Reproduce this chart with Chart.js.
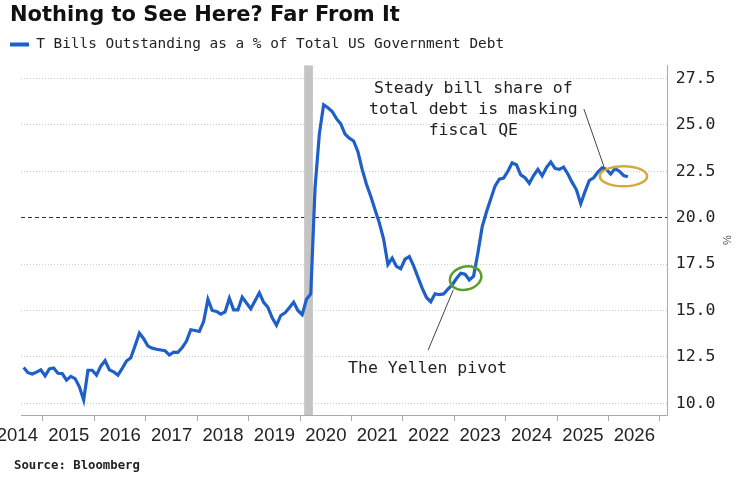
<!DOCTYPE html>
<html>
<head>
<meta charset="utf-8">
<script src="https://cdn.jsdelivr.net/npm/chart.js@4.4.1/dist/chart.umd.min.js"></script>
<style>
  html, body { margin: 0; padding: 0; background: #fff; }
  canvas { display: block; }
</style>
</head>
<body>
<canvas id="chart" width="741" height="483"></canvas>
<script>
// monthly readings, first point is Aug 2014
const firstYear = 2014;
const firstMonth = 8;
const billShare = [
  11.93, 11.65, 11.58, 11.68, 11.80,                                              // 2014
  11.48, 11.85, 11.90, 11.62, 11.60, 11.25, 11.45, 11.33, 10.89, 10.18, 11.78, 11.78, // 2015
  11.52, 12.00, 12.30, 11.80, 11.69, 11.52, 11.88, 12.28, 12.45, 13.10, 13.78, 13.48, // 2016
  13.08, 12.97, 12.91, 12.87, 12.83, 12.60, 12.76, 12.75, 13.00, 13.35, 13.96, 13.92, // 2017
  13.87, 14.40, 15.60, 15.00, 14.95, 14.80, 14.92, 15.66, 15.03, 15.03, 15.72, 15.40, // 2018
  15.09, 15.53, 15.95, 15.44, 15.17, 14.60, 14.20, 14.73, 14.87, 15.15, 15.45, 15.00, // 2019
  14.77, 15.60, 15.89, 21.60, 24.50, 26.08, 25.92, 25.72, 25.33, 25.05, 24.50, 24.28, // 2020
  24.13, 23.55, 22.60, 21.80, 21.15, 20.43, 19.72, 18.85, 17.48, 17.82, 17.38, 17.25, // 2021
  17.76, 17.90, 17.40, 16.80, 16.20, 15.70, 15.47, 15.90, 15.85, 15.89, 16.15, 16.38, // 2022
  16.72, 17.00, 16.95, 16.65, 16.85, 18.10, 19.50, 20.30, 21.00, 21.70, 22.07, 22.13, // 2023
  22.50, 22.95, 22.85, 22.30, 22.15, 21.85, 22.27, 22.60, 22.25, 22.70, 23.00, 22.65, // 2024
  22.60, 22.72, 22.35, 21.90, 21.50, 20.75, 21.40, 22.00, 22.15, 22.45, 22.68, 22.60, // 2025
  22.35, 22.64, 22.50, 22.27, 22.20                                               // 2026
];
const yearTicks = [2014, 2015, 2016, 2017, 2018, 2019, 2020, 2021, 2022, 2023, 2024, 2025, 2026, 2027];
const yearLabels = ['2014', '2015', '2016', '2017', '2018', '2019', '2020', '2021', '2022', '2023', '2024', '2025', '2026'];
const valueTicks = [10, 12.5, 15, 17.5, 20, 22.5, 25, 27.5];
const refLevel = 20;
const recession = [2020.08, 2020.25];

const seriesName = 'T Bills Outstanding as a % of Total US Government Debt';
const sourceNote = 'Source: Bloomberg';
const blue = '#1f5fc8';
const mono = 'DejaVu Sans Mono';

const points = billShare.map((v, i) => ({
  x: firstYear + (firstMonth - 1 + i + 0.5) / 12,
  y: v
}));

// callouts, placed in data units
const notes = [
  { lines: ['Steady bill share of', 'total debt is masking', 'fiscal QE'], x: 2023.37, y: 26.69 },
  { lines: ['The Yellen pivot'], x: 2022.48, y: 11.61 }
];
const rings = [
  { x: 2026.29, y: 22.23, rx: 0.46, ry: 0.54, rot: 0, color: '#d6a93e' },
  { x: 2023.22, y: 16.74, rx: 0.31, ry: 0.62, rot: -0.25, color: '#5c9e2c' }
];
const pointers = [
  [2025.52, 25.85, 2025.93, 22.59],
  [2022.98, 16.11, 2022.49, 12.86]
];

const extras = {
  id: 'extras',
  beforeDatasetsDraw(chart) {
    const { ctx, chartArea, scales: { x } } = chart;
    ctx.save();
    ctx.fillStyle = '#c4c4c4';
    const x0 = x.getPixelForValue(recession[0]);
    const x1 = x.getPixelForValue(recession[1]);
    ctx.fillRect(x0, chartArea.top, x1 - x0, chartArea.bottom - chartArea.top);
    ctx.restore();
  },
  afterDatasetsDraw(chart) {
    const { ctx, scales: { x, y } } = chart;
    ctx.save();
    rings.forEach(r => {
      const cx = x.getPixelForValue(r.x);
      const cy = y.getPixelForValue(r.y);
      const rx = x.getPixelForValue(r.x + r.rx) - cx;
      const ry = cy - y.getPixelForValue(r.y + r.ry);
      ctx.beginPath();
      ctx.ellipse(cx, cy, rx, ry, r.rot, 0, Math.PI * 2);
      ctx.lineWidth = 2.5;
      ctx.strokeStyle = r.color;
      ctx.stroke();
    });
    ctx.strokeStyle = '#444';
    ctx.lineWidth = 1;
    pointers.forEach(p => {
      ctx.beginPath();
      ctx.moveTo(x.getPixelForValue(p[0]), y.getPixelForValue(p[1]));
      ctx.lineTo(x.getPixelForValue(p[2]), y.getPixelForValue(p[3]));
      ctx.stroke();
    });
    ctx.fillStyle = '#222';
    ctx.font = '16.5px "' + mono + '"';
    ctx.textAlign = 'center';
    ctx.textBaseline = 'alphabetic';
    notes.forEach(n => {
      const nx = x.getPixelForValue(n.x);
      const ny = y.getPixelForValue(n.y);
      n.lines.forEach((t, i) => ctx.fillText(t, nx, ny + i * 21));
    });
    ctx.restore();
  },
  afterDraw(chart) {
    const { ctx } = chart;
    ctx.save();
    ctx.fillStyle = '#222';
    ctx.font = 'bold 12.3px "' + mono + '"';
    ctx.textAlign = 'left';
    ctx.textBaseline = 'alphabetic';
    ctx.fillText(sourceNote, 14, 468.5);
    ctx.restore();
  }
};

new Chart(document.getElementById('chart'), {
  type: 'line',
  data: {
    datasets: [{
      label: seriesName,
      data: points,
      borderColor: blue,
      backgroundColor: blue,
      borderWidth: 3.2,
      pointRadius: 0,
      tension: 0
    }]
  },
  options: {
    responsive: false,
    animation: false,
    layout: { padding: { left: 10, right: 0, top: 0, bottom: 31.8 } },
    plugins: {
      title: {
        display: true,
        text: 'Nothing to See Here? Far From It',
        align: 'start',
        color: '#111',
        font: { family: 'DejaVu Sans', size: 21, weight: 'bold' },
        padding: { top: 2.7, bottom: 9.3 }
      },
      legend: {
        display: true,
        align: 'start',
        labels: {
          boxWidth: 19,
          boxHeight: 4,
          padding: 0,
          color: '#222',
          font: { family: mono, size: 14.4 },
          generateLabels(chart) {
            return Chart.defaults.plugins.legend.labels.generateLabels(chart)
              .map(l => Object.assign(l, { lineWidth: 0 }));
          }
        }
      },
      // empty gap between the legend and the plot
      subtitle: {
        display: true,
        text: '',
        weight: 500,
        font: { size: 3.8, lineHeight: 1 },
        padding: 0
      },
      tooltip: { enabled: false }
    },
    scales: {
      x: {
        type: 'linear',
        min: 2014.573,
        max: 2027.15,
        afterBuildTicks(s) { s.ticks = yearTicks.map(v => ({ value: v })); },
        afterFit(s) { s.paddingLeft = 21; s.paddingRight = 0; },
        ticks: {
          autoSkip: false,
          maxRotation: 0,
          labelOffset: 25.8,
          padding: 4,
          color: '#222',
          font: { family: 'Liberation Sans', size: 18.5 },
          callback: (v, i) => yearLabels[i] ?? ''
        },
        grid: { drawOnChartArea: false, drawTicks: true, tickLength: 6, color: '#aaa' },
        border: { color: '#aaa', width: 1 }
      },
      y: {
        type: 'linear',
        position: 'right',
        min: 9.37,
        max: 28.2,
        afterBuildTicks(s) { s.ticks = valueTicks.map(v => ({ value: v })); },
        afterFit(s) { s.width = 73.3; },
        ticks: {
          padding: 8,
          color: '#222',
          font: { family: mono, size: 16.5 },
          callback: v => v.toFixed(1)
        },
        grid: {
          drawTicks: false,
          color: c => (c.tick && c.tick.value === refLevel) ? '#333' : '#cfcfcf',
          lineWidth: 1
        },
        border: {
          color: '#aaa',
          width: 1,
          dash: c => (c.tick && c.tick.value === refLevel) ? [4, 3] : [1, 2]
        },
        title: {
          display: true,
          text: '%',
          color: '#555',
          font: { size: 11 },
          padding: { top: 8, bottom: 0 }
        }
      }
    }
  },
  plugins: [extras]
});
</script>
</body>
</html>
